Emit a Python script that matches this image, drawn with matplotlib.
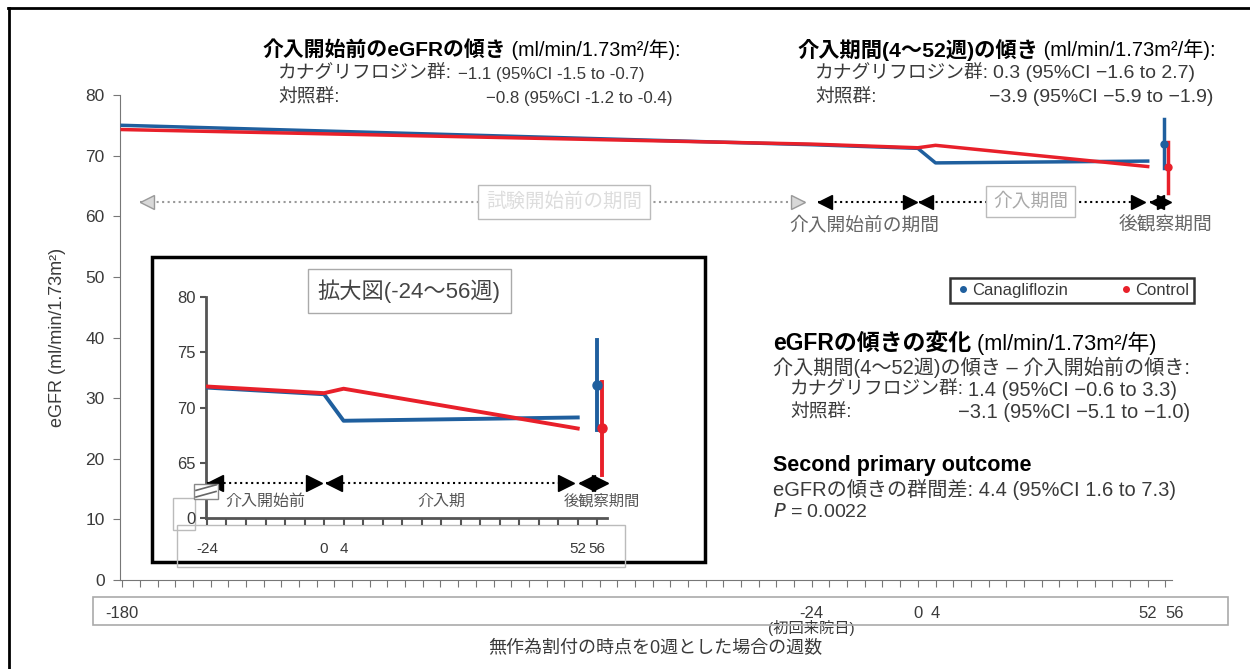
import numpy as np
import matplotlib
matplotlib.use("Agg")
import matplotlib.pyplot as plt
from matplotlib.lines import Line2D
from matplotlib.patches import Rectangle
from matplotlib.transforms import offset_copy

plt.rcParams['font.family'] = ['Liberation Sans', 'Noto Sans CJK JP', 'DejaVu Sans']

# data (weeks from randomisation, eGFR)
weeks = [-180, -24, 0, 4, 52]
cana = [75.0, 71.8, 71.2, 68.8, 69.1]
ctrl = [74.3, 71.9, 71.3, 71.7, 68.2]
inset_weeks = [-24, 0, 4, 52]
inset_cana = [71.8, 71.2, 68.8, 69.1]
inset_ctrl = [71.9, 71.3, 71.7, 68.1]

# week-56 follow-up point with 95% CI
fu_x = [55.6, 56.6]
fu_mean = [72.0, 68.1]
fu_lo = [68.0, 63.9]
fu_hi = [76.1, 72.3]

blue = '#1f5f9e'
red = '#e8202a'
txt = '#3a3a3a'

W, H = 1250, 669
fig = plt.figure(figsize=(12.5, 6.69), dpi=100)

def fx(px):
    return px / W

def fy(py):
    return 1 - py / H

def period_arrow(a_, a, b, y, color='black', fc='black', ms=9, lw=1.5):
    # dotted shaft with solid triangle heads whose tips sit on a and b
    a_.plot([a, b], [y, y], ls=':', color=color, lw=lw, clip_on=False, zorder=4)
    left = offset_copy(a_.transData, fig=fig, x=ms / 2, units='points')
    right = offset_copy(a_.transData, fig=fig, x=-ms / 2, units='points')
    a_.plot(a, y, marker='<', ms=ms, color=color, mfc=fc, mew=1, transform=left,
            clip_on=False, zorder=5)
    a_.plot(b, y, marker='>', ms=ms, color=color, mfc=fc, mew=1, transform=right,
            clip_on=False, zorder=5)

# outer frame (top and left only)
fig.add_artist(Line2D([fx(8), fx(1250)], [fy(8), fy(8)], color='black', lw=2))
fig.add_artist(Line2D([fx(9), fx(9)], [fy(8), fy(669)], color='black', lw=2))

# ---------- main axes ----------
ax = fig.add_axes([fx(120), fy(580), fx(1172 - 120), (580 - 95) / H])
ax.set_xlim(-180.5, 57.5)
ax.set_ylim(0, 80)
for s in ['top', 'right']:
    ax.spines[s].set_visible(False)
for s in ['left', 'bottom']:
    ax.spines[s].set_color('#777777')
ax.set_yticks(np.arange(0, 81, 10))
ax.tick_params(axis='y', colors='#777777', labelcolor=txt, labelsize=12.5, length=5, pad=6)
xt = np.arange(-180, 57, 4)
lab_pos = {-180: '-180', -24: '-24', 0: '0', 4: '4', 52: '52', 56: '56'}
ax.set_xticks(xt)
ax.set_xticklabels([lab_pos.get(int(v), '') for v in xt])
ax.tick_params(axis='x', colors='#777777', labelcolor=txt, labelsize=12, length=5, pad=14)
for v, t in zip(xt, ax.get_xticklabels()):
    if v == 56:
        t.set_ha('left')
ax.set_ylabel('eGFR (ml/min/1.73m²)', fontsize=13, color=txt, labelpad=14)

ax.plot(weeks, cana, color=blue, lw=2.5, zorder=3)
ax.plot(weeks, ctrl, color=red, lw=2.5, zorder=3)
for i, c in enumerate([blue, red]):
    ax.plot([fu_x[i], fu_x[i]], [fu_lo[i], fu_hi[i]], color=c, lw=2.5, zorder=4)
    ax.plot(fu_x[i], fu_mean[i], 'o', color=c, ms=5, zorder=5)

# period arrows in main chart
ya = 62.4
period_arrow(ax, -176, -25.5, ya, color='#999999', fc='#d8d8d8', ms=10)
for a, b in [(-22.5, -0.3), (0.3, 51.3), (52.5, 57.2)]:
    period_arrow(ax, a, b, ya, ms=10)
ax.text(-80, ya, '試験開始前の期間', ha='center', va='center', fontsize=14, color='#dddddd',
        zorder=6, bbox=dict(boxstyle='square,pad=0.4', fc='white', ec='#bbbbbb', lw=1))
ax.text(25.5, ya, '介入期間', ha='center', va='center', fontsize=13.5, color='#aaaaaa',
        zorder=6, bbox=dict(boxstyle='square,pad=0.35', fc='white', ec='#bbbbbb', lw=1))
ax.text(-12, ya - 3.9, '介入開始前の期間', ha='center', va='center', fontsize=13.5, color='#666666')
ax.text(56, ya - 3.9, '後観察期間', ha='center', va='center', fontsize=13.5, color='#666666')

# tick-label box and axis title
fig.add_artist(Rectangle((fx(93), fy(625)), fx(1228 - 93), (625 - 597) / H,
                         fill=False, ec='#aaaaaa', lw=1.2))
ax.text(-24, (580 - 628) / (580 - 95), '(初回来院日)', transform=ax.get_xaxis_transform(),
        ha='center', va='center', fontsize=11, color=txt)
fig.text(fx(655), fy(649), '無作為割付の時点を0週とした場合の週数', ha='center', va='center',
         fontsize=13, color=txt)

# legend
handles = [Line2D([], [], ls='none', marker='o', ms=4, color=blue, label='Canagliflozin'),
           Line2D([], [], ls='none', marker='o', ms=4, color=red, label='Control')]
leg = fig.legend(handles=handles, loc='center', bbox_to_anchor=(fx(1072), fy(290)), ncol=2,
                 frameon=True, fancybox=False, fontsize=12, handletextpad=0.05,
                 columnspacing=3.0, borderpad=0.3, handlelength=1.0, borderaxespad=0)
leg.get_frame().set_edgecolor('black')
leg.get_frame().set_linewidth(1.8)
for t in leg.get_texts():
    t.set_color(txt)

# ---------- annotation texts ----------
def head(x, y, bold, rest, size):
    t = fig.text(fx(x), fy(y), bold, fontsize=size, fontweight='bold', va='center', color='black')
    fig.canvas.draw()
    bb = t.get_window_extent()
    fig.text(bb.x1 / fig.dpi / fig.get_figwidth(), fy(y), rest, fontsize=size - 0.8,
             va='center', color='black')

def line(x, y, s, size=13.5, **kw):
    fig.text(fx(x), fy(y), s, fontsize=size, va='center', color=txt, **kw)

head(262, 50, '介入開始前のeGFRの傾き', ' (ml/min/1.73m²/年):', 15)
line(278, 74, 'カナグリフロジン群:')
line(458, 74, '−1.1 (95%CI -1.5 to -0.7)', 12.2)
line(278, 98, '対照群:')
line(672, 98, '−0.8 (95%CI -1.2 to -0.4)', 12.2, ha='right')

head(797, 50, '介入期間(4～52週)の傾き', ' (ml/min/1.73m²/年):', 15.3)
line(815, 74, 'カナグリフロジン群:')
line(993, 74, '0.3 (95%CI −1.6 to 2.7)', 14)
line(815, 98, '対照群:')
line(1213, 98, '−3.9 (95%CI −5.9 to −1.9)', 14, ha='right')

head(773, 343, 'eGFRの傾きの変化', ' (ml/min/1.73m²/年)', 16.5)
line(773, 367, '介入期間(4～52週)の傾き – 介入開始前の傾き:', 14.5)
line(790, 390, 'カナグリフロジン群:')
line(968, 390, '1.4 (95%CI −0.6 to 3.3)', 14.5)
line(790, 413, '対照群:')
line(1190, 413, '−3.1 (95%CI −5.1 to −1.0)', 14.5, ha='right')
fig.text(fx(773), fy(465), 'Second primary outcome', fontsize=15.5, fontweight='bold',
         va='center', color='black')
line(773, 489, 'eGFRの傾きの群間差: 4.4 (95%CI 1.6 to 7.3)', 14.5)
line(773, 512, '$P$ = 0.0022', 14)

# ---------- inset ----------
fig.add_artist(Rectangle((fx(152), fy(562)), fx(705 - 152), (562 - 257) / H,
                         fill=True, fc='white', ec='black', lw=2.5, zorder=5))
fig.add_artist(Rectangle((fx(177), fy(567)), fx(625 - 177), (567 - 525) / H,
                         fill=False, ec='#bbbbbb', lw=1, zorder=6))
fig.add_artist(Rectangle((fx(173), fy(530)), fx(195 - 173), (530 - 498) / H,
                         fill=False, ec='#bbbbbb', lw=1, zorder=6))
fig.text(fx(409), fy(291), '拡大図(-24～56週)', ha='center', va='center', fontsize=16,
         color='#444444', zorder=7,
         bbox=dict(boxstyle='square,pad=0.45', fc='white', ec='#aaaaaa', lw=1))

ins = fig.add_axes([fx(206), fy(518), fx(607 - 206), (518 - 297) / H], zorder=8)
ins.patch.set_alpha(0)
ins.set_xlim(-24.2, 58)
ins.set_ylim(60, 80)
for s in ['top', 'right']:
    ins.spines[s].set_visible(False)
for s in ['left', 'bottom']:
    ins.spines[s].set_color('#555555')
    ins.spines[s].set_linewidth(2)
ins.set_yticks([60, 65, 70, 75, 80])
ins.set_yticklabels(['0', '65', '70', '75', '80'])
ins.tick_params(axis='y', colors='#555555', labelcolor=txt, labelsize=12, length=4, width=1.5)
ixt = np.arange(-24, 57, 4)
ilab = {-24: '-24', 0: '0', 4: '4', 52: '52', 56: '56'}
ins.set_xticks(ixt)
ins.set_xticklabels([ilab.get(int(v), '') for v in ixt])
ins.tick_params(axis='x', colors='#555555', labelcolor=txt, labelsize=11, length=5, width=1.5, pad=12)

ins.plot(inset_weeks, inset_cana, color=blue, lw=2.8, zorder=3)
ins.plot(inset_weeks, inset_ctrl, color=red, lw=2.8, zorder=3)
for i, c in enumerate([blue, red]):
    ins.plot([fu_x[i] + 0.4, fu_x[i] + 0.4], [fu_lo[i], fu_hi[i]], color=c, lw=2.8, zorder=4,
             clip_on=False)
    ins.plot(fu_x[i] + 0.4, fu_mean[i], 'o', color=c, ms=6.5, zorder=5, clip_on=False)

yi = 63.2
for a, b in [(-24, -0.4), (0.4, 51.2), (52.4, 58.2)]:
    period_arrow(ins, a, b, yi, ms=11)
ins.text(-12, 61.5, '介入開始前', ha='center', va='center', fontsize=11.5, color='#555555')
ins.text(24, 61.5, '介入期', ha='center', va='center', fontsize=11.5, color='#555555')
ins.text(57, 61.5, '後観察期間', ha='center', va='center', fontsize=11, color='#555555',
         clip_on=False)

# axis break mark
ins.add_patch(Rectangle((-0.03, 0.085), 0.06, 0.07, transform=ins.transAxes, fc='white',
                        ec='#888888', lw=1, clip_on=False, zorder=6))
for dy in [0.0, 0.03]:
    ins.plot([-0.025, 0.025], [0.095 + dy, 0.12 + dy], transform=ins.transAxes, color='#666666',
             lw=1.2, clip_on=False, zorder=7)

fig.savefig('out.png', dpi=100)
